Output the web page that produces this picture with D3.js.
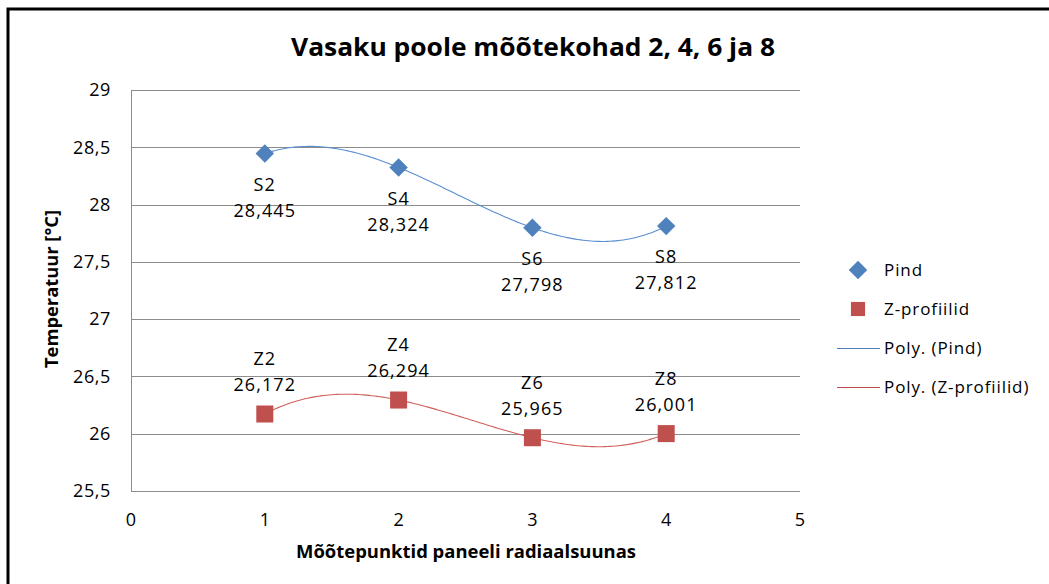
<!DOCTYPE html>
<html>
<head>
<meta charset="utf-8" />
<title></title>
<style>
html, body {
    padding: 0px;
    margin: 0px;
    background: #fff;
}
text {
    font-family: "Open Sans", Lato, sans-serif;
    fill: #000;
}
</style>
</head>
<body>
<div id="chart"></div>
<script src="https://cdnjs.cloudflare.com/ajax/libs/d3/7.8.5/d3.min.js"></script>
<script>
!(function(){
    "use strict"

    // data
    var xPoints = [1, 2, 3, 4]
    var pindValues = [28.445, 28.324, 27.798, 27.812]
    var pindNames = ["S2", "S4", "S6", "S8"]
    var zValues = [26.172, 26.294, 25.965, 26.001]
    var zNames = ["Z2", "Z4", "Z6", "Z8"]
    var xTicks = [0, 1, 2, 3, 4, 5]
    var yTicks = [25.5, 26, 26.5, 27, 27.5, 28, 28.5, 29]
    var legendNames = ["Pind", "Z-profiilid", "Poly. (Pind)", "Poly. (Z-profiilid)"]

    var W = 1049, H = 584
    var blue = "#4F81BD", red = "#C0504D"
    var fmt = function(v) { return String(v).replace(".", ",") }

    var svg = d3.select("#chart").append("svg")
        .attr("width", W).attr("height", H)

    // outer frame (only top and left visible)
    svg.append("path")
        .attr("d", "M8,584 V9 H1049")
        .attr("fill", "none").attr("stroke", "#000").attr("stroke-width", 3)

    var x = d3.scaleLinear().domain([0, 5]).range([131, 800])
    var y = d3.scaleLinear().domain([25.5, 29]).range([491, 90])

    // gridlines
    svg.append("g").selectAll("line")
        .data(yTicks)
        .enter().append("line")
        .attr("x1", x(0)).attr("x2", x(5))
        .attr("y1", function(d){ return Math.round(y(d)) + 0.5 })
        .attr("y2", function(d){ return Math.round(y(d)) + 0.5 })
        .attr("stroke", "#8c8c8c").attr("stroke-width", 1)

    svg.append("line")
        .attr("x1", x(0) + 0.5).attr("x2", x(0) + 0.5)
        .attr("y1", y(29)).attr("y2", y(25.5))
        .attr("stroke", "#8c8c8c")

    // tick labels
    svg.append("g").selectAll("text")
        .data(yTicks)
        .enter().append("text")
        .attr("x", 111).attr("y", function(d){ return y(d) })
        .attr("dy", "0.35em")
        .attr("text-anchor", "end")
        .style("font-size", "18px").style("letter-spacing", "0.6px")
        .text(fmt)

    svg.append("g").selectAll("text")
        .data(xTicks)
        .enter().append("text")
        .attr("x", function(d){ return x(d) }).attr("y", 520)
        .attr("dy", "0.35em")
        .attr("text-anchor", "middle")
        .style("font-size", "18px")
        .text(fmt)

    // titles
    svg.append("text")
        .attr("x", 291).attr("y", 56)
        .attr("textLength", 484).attr("lengthAdjust", "spacingAndGlyphs")
        .style("font-size", "25px").style("font-weight", "bold")
        .text("Vasaku poole mõõtekohad 2, 4, 6 ja 8")

    svg.append("text")
        .attr("x", 296).attr("y", 558)
        .attr("textLength", 340).attr("lengthAdjust", "spacingAndGlyphs")
        .style("font-size", "17px").style("font-weight", "bold")
        .text("Mõõtepunktid paneeli radiaalsuunas")

    svg.append("text")
        .attr("transform", "translate(58,368) rotate(-90)")
        .attr("textLength", 158).attr("lengthAdjust", "spacingAndGlyphs")
        .style("font-size", "17px").style("font-weight", "bold")
        .text("Temperatuur [°C]")

    // least squares polynomial (order 3), like the spreadsheet trendline
    function polyfit(xs, ys, order) {
        var n = order + 1
        var A = [], b = []
        for (var i = 0; i < n; i++) {
            A.push([])
            for (var j = 0; j < n; j++) {
                A[i].push(d3.sum(xs, function(v){ return Math.pow(v, i + j) }))
            }
            b.push(d3.sum(xs, function(v, k){ return ys[k] * Math.pow(v, i) }))
        }
        // gauss elimination
        for (var c = 0; c < n; c++) {
            var p = c
            for (var r = c + 1; r < n; r++) if (Math.abs(A[r][c]) > Math.abs(A[p][c])) p = r
            var t = A[c]; A[c] = A[p]; A[p] = t
            t = b[c]; b[c] = b[p]; b[p] = t
            for (var r2 = c + 1; r2 < n; r2++) {
                var f = A[r2][c] / A[c][c]
                for (var k = c; k < n; k++) A[r2][k] -= f * A[c][k]
                b[r2] -= f * b[c]
            }
        }
        var coef = new Array(n)
        for (var i2 = n - 1; i2 >= 0; i2--) {
            var s = b[i2]
            for (var k2 = i2 + 1; k2 < n; k2++) s -= A[i2][k2] * coef[k2]
            coef[i2] = s / A[i2][i2]
        }
        return function(v) {
            return d3.sum(coef, function(a, i){ return a * Math.pow(v, i) })
        }
    }

    var line = d3.line()
        .x(function(d){ return x(d[0]) })
        .y(function(d){ return y(d[1]) })

    function trend(vals, color) {
        var fn = polyfit(xPoints, vals, 3)
        var pts = d3.range(1, 4.0001, 0.02).map(function(v){ return [v, fn(v)] })
        svg.append("path")
            .datum(pts)
            .attr("d", line)
            .attr("fill", "none")
            .attr("stroke", color)
            .attr("stroke-width", 1.1)
    }
    trend(pindValues, "#5B8FD0")
    trend(zValues, "#D0605C")

    var diamond = d3.symbol().type(d3.symbolSquare).size(170)
    var square = d3.symbol().type(d3.symbolSquare).size(290)

    // Pind markers
    svg.append("g").selectAll("path")
        .data(pindValues)
        .enter().append("path")
        .attr("d", diamond)
        .attr("transform", function(d, i){ return "translate(" + x(xPoints[i]) + "," + y(d) + ") rotate(45)" })
        .attr("fill", blue)

    // Z markers
    svg.append("g").selectAll("path")
        .data(zValues)
        .enter().append("path")
        .attr("d", square)
        .attr("transform", function(d, i){ return "translate(" + x(xPoints[i]) + "," + y(d) + ")" })
        .attr("fill", red)

    // data labels
    function labels(vals, names, off1, off2) {
        var g = svg.append("g")
        vals.forEach(function(v, i) {
            var t = g.append("text")
                .attr("text-anchor", "middle")
                .style("font-size", "18px").style("letter-spacing", "1.1px")
            t.append("tspan")
                .attr("x", x(xPoints[i])).attr("y", y(v) + off1).attr("dy", "0.35em")
                .text(names[i])
            t.append("tspan")
                .attr("x", x(xPoints[i])).attr("y", y(v) + off2).attr("dy", "0.35em")
                .text(fmt(v))
        })
    }
    labels(pindValues, pindNames, 31, 57)
    labels(zValues, zNames, -55, -29)

    // legend
    var lg = svg.append("g")
    var ly = d3.scalePoint().domain(legendNames).range([270, 387])
    lg.append("path").attr("d", diamond)
        .attr("transform", "translate(858," + ly(legendNames[0]) + ") rotate(45)")
        .attr("fill", blue)
    lg.append("path").attr("d", d3.symbol().type(d3.symbolSquare).size(200))
        .attr("transform", "translate(858," + ly(legendNames[1]) + ")")
        .attr("fill", red)
    lg.append("line")
        .attr("x1", 837).attr("x2", 880)
        .attr("y1", ly(legendNames[2]) + 0.5).attr("y2", ly(legendNames[2]) + 0.5)
        .attr("stroke", "#4A7EBB")
    lg.append("line")
        .attr("x1", 837).attr("x2", 880)
        .attr("y1", ly(legendNames[3]) + 0.5).attr("y2", ly(legendNames[3]) + 0.5)
        .attr("stroke", "#BE4B48")
    lg.selectAll("text")
        .data(legendNames)
        .enter().append("text")
        .attr("x", 884).attr("y", function(d){ return ly(d) })
        .attr("dy", "0.35em")
        .style("font-size", "17px").style("letter-spacing", "0.9px")
        .text(function(d){ return d })

}());
</script>
</body>
</html>
